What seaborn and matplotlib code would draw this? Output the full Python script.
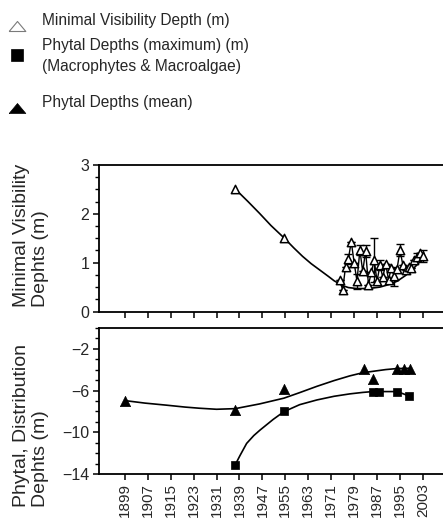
import numpy as np
import pandas as pd
import matplotlib
matplotlib.use("Agg")
import matplotlib.pyplot as plt
from matplotlib.lines import Line2D
from matplotlib.ticker import MultipleLocator, FixedLocator
import seaborn as sns

sns.set_theme(style="ticks")
plt.rcParams["font.family"] = ["Liberation Sans", "DejaVu Sans"]

# --- minimal visibility depth (top panel) ---
vis_early_years = [1937.5, 1954.5]
vis_early_vals = [2.51, 1.51]

vis_years = [1974, 1975, 1976, 1977, 1978, 1979, 1980, 1981, 1982, 1983,
             1984, 1985, 1986, 1987, 1988, 1989, 1990, 1991, 1992, 1993,
             1994, 1995, 1996, 1997, 1998, 1999, 2000, 2001, 2002, 2003]
vis_vals = [0.64, 0.44, 0.92, 1.08, 1.43, 1.00, 0.62, 1.26, 0.82, 1.24,
            0.55, 0.80, 1.05, 0.62, 0.95, 0.70, 0.98, 0.65, 0.90, 0.72,
            0.88, 1.26, 0.95, 0.85, 0.92, 0.90, 1.05, 1.12, 1.19, 1.13]
vis_err = [0, 0, 0, 0.10, 0, 0, 0.15, 0.10, 0, 0.12,
           0, 0, 0.45, 0, 0.10, 0, 0, 0, 0, 0.20,
           0, 0.13, 0, 0, 0, 0, 0, 0.08, 0, 0.12]

vis_trend_years = [1937.5, 1942, 1946, 1950, 1954.5, 1958, 1961, 1964, 1967,
                   1970, 1972, 1975, 1977, 1980, 1984, 1988, 1991, 1994,
                   1997, 2000, 2003]
vis_trend_vals = [2.51, 2.25, 2.01, 1.76, 1.51, 1.30, 1.13, 0.98, 0.85,
                  0.72, 0.63, 0.53, 0.49, 0.47, 0.47, 0.50, 0.55, 0.62,
                  0.74, 0.90, 1.08]

# --- phytal depths (bottom panel) ---
mean_years = [1899, 1937.5, 1954.5, 1982.5, 1985.5, 1994, 1996.5, 1998.5]
mean_vals = [-7.0, -7.9, -5.9, -3.9, -4.9, -3.9, -3.9, -3.9]

max_years = [1937.5, 1954.5, 1985.5, 1987.5, 1994, 1998]
max_vals = [-13.1, -8.0, -6.1, -6.1, -6.1, -6.5]

mean_trend_years = [1899, 1906, 1913.6, 1920, 1925, 1931, 1937.5, 1946,
                    1954.5, 1960, 1966, 1972, 1977.5, 1982, 1986, 1990,
                    1994, 1998.5]
mean_trend_vals = [-6.96, -7.2, -7.40, -7.58, -7.69, -7.79, -7.73, -7.28,
                   -6.73, -6.2, -5.6, -5.05, -4.6, -4.3, -4.15, -4.0,
                   -3.9, -3.88]

max_trend_years = [1937.5, 1939.2, 1941.5, 1944, 1946.2, 1950.8, 1954.5,
                   1960, 1966, 1972, 1977.5, 1982, 1985.5, 1987.5, 1994, 1998]
max_trend_vals = [-13.1, -12.2, -11.05, -10.3, -9.77, -8.75, -8.02,
                  -7.35, -6.9, -6.55, -6.32, -6.18, -6.1, -6.1, -6.1, -6.5]

year_ticks = list(range(1899, 2004, 8))

W, H = 443, 520
fig = plt.figure(figsize=(W / 100, H / 100), dpi=100)
ax1 = fig.add_axes([99 / W, 1 - 311.5 / H, 344 / W, 146.5 / H])
ax2 = fig.add_axes([99 / W, 1 - 474.3 / H, 344 / W, 146.6 / H])

lw = 1.2

# top panel
sns.lineplot(x=vis_trend_years, y=vis_trend_vals, ax=ax1, color="black",
             lw=lw, sort=False, estimator=None)
ax1.errorbar(vis_years, vis_vals, yerr=vis_err, fmt="none", ecolor="black",
             elinewidth=1.0, capsize=3, capthick=1.0, zorder=3)
sns.lineplot(x=vis_years, y=vis_vals, ax=ax1, color="black", lw=1.0,
             sort=False, estimator=None, zorder=3)
sns.scatterplot(x=vis_early_years + vis_years, y=vis_early_vals + vis_vals,
                ax=ax1, marker="^", s=36, facecolor="white",
                edgecolor="black", linewidth=1.1, zorder=4)

# bottom panel
sns.lineplot(x=mean_trend_years, y=mean_trend_vals, ax=ax2, color="black",
             lw=lw, sort=False, estimator=None)
sns.lineplot(x=max_trend_years, y=max_trend_vals, ax=ax2, color="black",
             lw=lw, sort=False, estimator=None)
sns.scatterplot(x=mean_years, y=mean_vals, ax=ax2, marker="^", s=55,
                color="black", edgecolor="black", linewidth=0.5, zorder=4)
sns.scatterplot(x=max_years, y=max_vals, ax=ax2, marker="s", s=40,
                color="black", edgecolor="black", linewidth=0.5, zorder=4)

for ax in (ax1, ax2):
    ax.set_xlim(1890, 2010)
    ax.xaxis.set_major_locator(FixedLocator(year_ticks))
    for side in ("top", "left", "bottom"):
        ax.spines[side].set_linewidth(1.3)
        ax.spines[side].set_color("black")
    ax.spines["right"].set_visible(False)
    ax.tick_params(axis="both", which="major", direction="out", length=4,
                   width=1.1, color="black", labelsize=11.5, pad=3)
    ax.tick_params(axis="y", which="minor", direction="out", length=3,
                   width=1.0, color="black")
    ax.set_xlabel("")
    ax.set_ylabel("")

ax1.set_ylim(0, 3)
ax1.yaxis.set_major_locator(MultipleLocator(1))
ax1.yaxis.set_minor_locator(MultipleLocator(0.25))
ax1.set_xticklabels([])

ax2.set_ylim(-14, 0)
ax2.yaxis.set_major_locator(FixedLocator([-14, -10, -6, -2]))
ax2.yaxis.set_minor_locator(MultipleLocator(1))
ax2.set_xticklabels([str(y) for y in year_ticks], rotation=90)
ax2.tick_params(axis="x", pad=2, labelsize=11)

fig.text(31 / W, 1 - 307 / H, "Minimal Visibility\nDephts (m)", rotation=90,
         ha="center", va="bottom", multialignment="left", fontsize=14)
fig.text(31 / W, 1 - 507 / H, "Phytal, Distribution\nDephts (m)", rotation=90,
         ha="center", va="bottom", multialignment="left", fontsize=14)

# legend drawn at top of the figure
tri_wide = [(-1, -0.6), (1, -0.6), (0, 0.6), (-1, -0.6)]
legend_markers = [
    dict(y=25.5, marker=tri_wide, ms=12, mfc="white", mec="#7a7a7a", mew=0.8),
    dict(y=55, marker="s", ms=8.5, mfc="black", mec="black", mew=0.5),
    dict(y=108, marker=tri_wide, ms=12, mfc="black", mec="black", mew=0.5),
]
legend_labels = [
    (20, "Minimal Visibility Depth (m)"),
    (56, "Phytal Depths (maximum) (m)\n(Macrophytes & Macroalgae)"),
    (102.5, "Phytal Depths (mean)"),
]
for m in legend_markers:
    fig.add_artist(Line2D([17 / W], [1 - m["y"] / H], marker=m["marker"],
                          markersize=m["ms"], markerfacecolor=m["mfc"],
                          markeredgecolor=m["mec"], markeredgewidth=m["mew"],
                          linestyle="none", transform=fig.transFigure))
for y, label in legend_labels:
    fig.text(42 / W, 1 - y / H, label, ha="left", va="center", fontsize=11.2,
             linespacing=1.45)

fig.savefig("out.png", dpi=100)
